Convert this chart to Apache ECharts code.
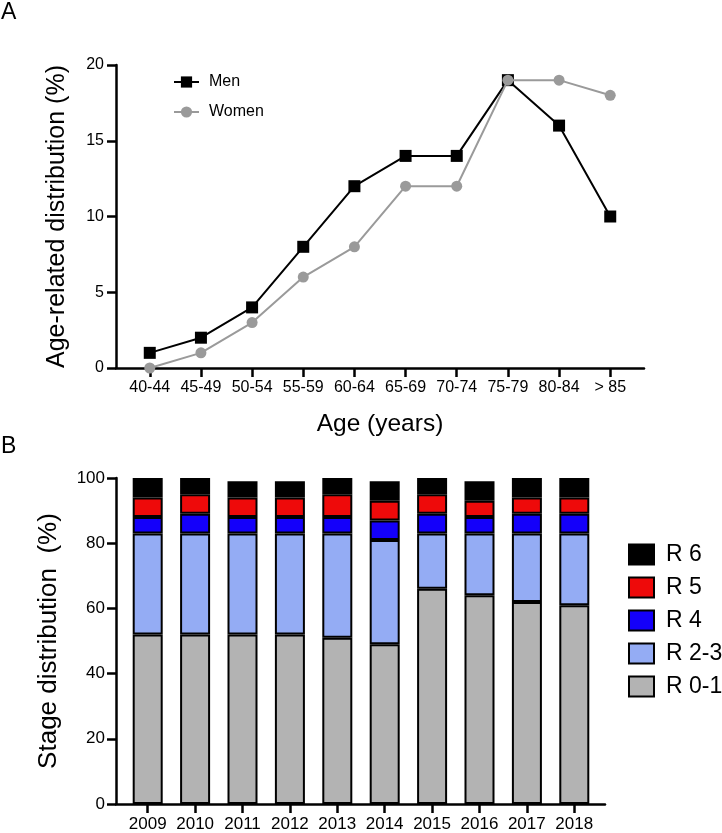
<!DOCTYPE html>
<html>
<head>
<meta charset="utf-8">
<script src="https://cdn.jsdelivr.net/npm/echarts@6/dist/echarts.min.js"></script>
<style>
html,body{margin:0;padding:0;background:#fff;}
#chart{width:722px;height:833px;}
</style>
</head>
<body>
<div id="chart"></div>
<script>
// ---- Panel A data ----
const ageGroups = ['40-44','45-49','50-54','55-59','60-64','65-69','70-74','75-79','80-84','> 85'];
const men   = [1, 2, 4, 8, 12, 14, 14, 19, 16, 10];
const women = [0, 1, 3, 6, 8, 12, 12, 19, 19, 18];
const ageTicks = [0, 5, 10, 15, 20];

// ---- Panel B data ----
const years = ['2009','2010','2011','2012','2013','2014','2015','2016','2017','2018'];
const r01 = [52, 52, 52, 52, 51, 49, 66, 64, 62, 61];
const r23 = [31, 31, 31, 31, 32, 32, 17, 19, 21, 22];
const r4  = [5, 6, 5, 5, 5, 6, 6, 5, 6, 6];
const r5  = [6, 6, 6, 6, 7, 6, 6, 5, 5, 5];
const r6  = [6, 5, 5, 5, 5, 6, 5, 6, 6, 6];
const stageTicks = [0, 20, 40, 60, 80, 100];

const FONT = "'Liberation Sans', Arial, Helvetica, sans-serif";
const idxA = ageGroups.map((_, i) => i);
const idxB = years.map((_, i) => i);

const chart = echarts.init(document.getElementById('chart'), null, {renderer: 'canvas'});

const axisLine = {show: true, onZero: false, lineStyle: {color: '#000', width: 2.5}};
const axisTick = {show: true, inside: false, length: 9, lineStyle: {color: '#000', width: 2.5}};

function stackSeries(name, data, color) {
  return {
    name: name, type: 'bar', stack: 'stage', xAxisIndex: 2, yAxisIndex: 2,
    barWidth: 30,
    data: data,
    itemStyle: {color: color, borderColor: '#000', borderWidth: 2},
    emphasis: {disabled: true}
  };
}

const option = {
  animation: false,
  backgroundColor: '#fff',
  textStyle: {fontFamily: FONT},
  title: [
    {text: 'A', left: 1, top: 1, padding: 0, textStyle: {fontFamily: FONT, fontSize: 23, fontWeight: 'normal', color: '#000'}},
    {text: 'B', left: 1, top: 435, padding: 0, textStyle: {fontFamily: FONT, fontSize: 23, fontWeight: 'normal', color: '#000'}}
  ],
  legend: [
    {
      data: ['Men', 'Women'],
      orient: 'vertical',
      left: 173, top: 74, padding: 0,
      itemWidth: 25, itemHeight: 14, itemGap: 14,
      textStyle: {fontFamily: FONT, fontSize: 16, color: '#000', padding: [0, 0, 0, 5]},
      selectedMode: false
    },
    {
      data: ['R 6', 'R 5', 'R 4', 'R 2-3', 'R 0-1'],
      orient: 'vertical',
      left: 628, top: 543, padding: 0,
      itemWidth: 25, itemHeight: 20, itemGap: 10,
      icon: 'rect',
      textStyle: {fontFamily: FONT, fontSize: 23, lineHeight: 20, color: '#000', padding: [0, 0, 0, 7]},
      selectedMode: false
    }
  ],
  grid: [
    {left: 116, right: 78, top: 65, bottom: 465},
    {left: 116, right: 117, top: 478, bottom: 29},
    {left: 124, right: 124, top: 478, bottom: 29}
  ],
  xAxis: [
    {
      gridIndex: 0, type: 'value', min: -0.66, max: 9.66,
      axisLine: axisLine,
      axisTick: Object.assign({}, axisTick, {customValues: idxA}),
      axisLabel: {customValues: idxA, formatter: v => ageGroups[Math.round(v)], fontSize: 16, color: '#000', margin: 12, fontFamily: FONT},
      splitLine: {show: false},
      name: 'Age (years)', nameLocation: 'middle', nameGap: 44,
      nameTextStyle: {fontSize: 24.5, color: '#000', fontFamily: FONT, verticalAlign: 'top'}
    },
    {
      gridIndex: 1, type: 'value', min: -0.67, max: 9.65,
      axisLine: axisLine,
      axisTick: Object.assign({}, axisTick, {customValues: idxB}),
      axisLabel: {customValues: idxB, formatter: v => years[Math.round(v)], fontSize: 17, color: '#000', margin: 12, fontFamily: FONT},
      splitLine: {show: false}
    },
    {
      gridIndex: 2, type: 'category', data: years, boundaryGap: true, show: false
    }
  ],
  yAxis: [
    {
      gridIndex: 0, type: 'value', min: ageTicks[0], max: ageTicks[ageTicks.length - 1], interval: 5,
      axisLine: axisLine, axisTick: axisTick,
      axisLabel: {fontSize: 16, color: '#000', margin: 12, fontFamily: FONT},
      splitLine: {show: false},
      name: 'Age-related distribution (%)', nameLocation: 'middle', nameGap: 46,
      nameTextStyle: {fontSize: 25, color: '#000', fontFamily: FONT}
    },
    {
      gridIndex: 1, type: 'value', min: stageTicks[0], max: stageTicks[stageTicks.length - 1], interval: 20,
      axisLine: axisLine, axisTick: axisTick,
      axisLabel: {fontSize: 17, color: '#000', margin: 11, fontFamily: FONT},
      splitLine: {show: false},
      name: 'Stage distribution  (%)', nameLocation: 'middle', nameGap: 54,
      nameTextStyle: {fontSize: 26, color: '#000', fontFamily: FONT}
    },
    {
      gridIndex: 2, type: 'value', min: stageTicks[0], max: stageTicks[stageTicks.length - 1], show: false,
      splitLine: {show: false}
    }
  ],
  series: [
    {
      name: 'Men', type: 'line', xAxisIndex: 0, yAxisIndex: 0,
      data: men.map((v, i) => [idxA[i], v]),
      symbol: 'rect', symbolSize: 12,
      lineStyle: {color: '#000', width: 2},
      itemStyle: {color: '#000'},
      z: 2
    },
    {
      name: 'Women', type: 'line', xAxisIndex: 0, yAxisIndex: 0,
      data: women.map((v, i) => [idxA[i], v]),
      symbol: 'circle', symbolSize: 11,
      lineStyle: {color: '#9a9a9a', width: 2},
      itemStyle: {color: '#9a9a9a'},
      z: 3
    },
    stackSeries('R 0-1', r01, '#b3b3b3'),
    stackSeries('R 2-3', r23, '#94acf4'),
    stackSeries('R 4', r4, '#1400fa'),
    stackSeries('R 5', r5, '#ee0a0a'),
    stackSeries('R 6', r6, '#000000')
  ]
};

chart.setOption(option);
</script>
</body>
</html>
